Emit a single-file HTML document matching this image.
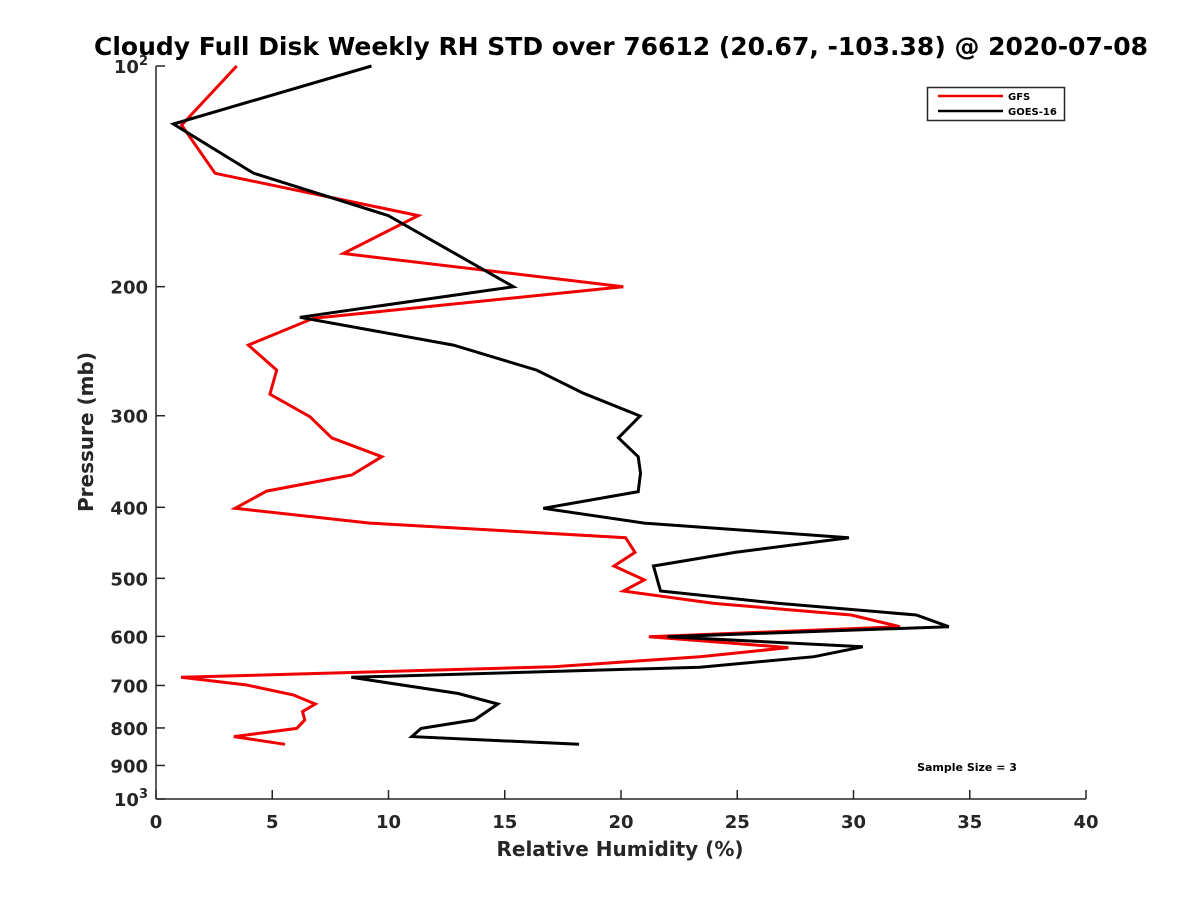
<!DOCTYPE html>
<html><head><meta charset="utf-8"><style>
body{margin:0;background:#fff}
svg text{font-family:"DejaVu Sans","Liberation Sans",sans-serif;font-weight:bold;fill:#262626}
</style></head><body>
<svg id="chart" width="1200" height="900" xmlns="http://www.w3.org/2000/svg">
<text x="621" y="55" text-anchor="middle" font-size="25" textLength="1054" lengthAdjust="spacingAndGlyphs" style="fill:#000">Cloudy Full Disk Weekly RH STD over 76612 (20.67, -103.38) @ 2020-07-08</text>
<g id="axes"></g>
<g id="series"></g>
<text x="620" y="856" text-anchor="middle" font-size="20">Relative Humidity (%)</text>
<text transform="translate(93,432) rotate(-90)" text-anchor="middle" font-size="20">Pressure (mb)</text>
<g>
<rect x="927.5" y="87.5" width="137" height="33" fill="#fff" stroke="#262626" stroke-width="1.5"/>
<line x1="938" y1="96" x2="1003" y2="96" stroke="#f00000" stroke-width="2.5"/>
<text x="1008" y="100" font-size="10" style="fill:#000">GFS</text>
<line x1="938" y1="111" x2="1003" y2="111" stroke="#000" stroke-width="2.5"/>
<text x="1008" y="115" font-size="10" style="fill:#000">GOES-16</text>
</g>
<text x="967" y="771" text-anchor="middle" font-size="11" style="fill:#000">Sample Size = 3</text>
</svg>
<script>
const xTicks=[0,5,10,15,20,25,30,35,40];
const yTicks=[100,200,300,400,500,600,700,800,900,1000];
const yTickLabels=["10^2","200","300","400","500","600","700","800","900","10^3"];
const gfsRH=[3.47,1.1,2.54,11.28,8.06,20.1,6.77,3.97,5.19,4.9,6.62,7.56,9.71,8.42,4.76,3.4,9.2,20.2,20.6,19.7,21.0,20.1,24.0,29.9,32.0,21.2,27.2,23.4,17.1,1.08,3.9,5.9,6.85,6.3,6.4,6.05,3.35,5.55];
const gfsP=[100,120.4,140.1,160,180.2,200,220.9,240.3,259.9,280.4,300.9,321.6,341.2,361.4,380.1,401.2,420.4,440.1,460.8,481,502.5,520.2,541,561,582,600.6,621.6,639.5,660,682.3,699,721,742,760,780,801,822,842];
const goesRH=[9.27,0.75,4.19,9.99,15.37,6.19,12.79,16.37,18.38,20.82,19.89,20.74,20.84,20.74,16.66,21.0,29.8,24.9,21.4,21.7,26.8,32.7,34.1,22.0,30.4,28.3,23.4,8.4,13.0,14.7,13.7,11.4,11.0,18.2];
const goesP=[100,120,140,160,200,220.2,240.3,259.9,279.5,300.3,321.6,341.2,359.5,380.9,401.2,420.4,440.1,460.8,481,520.2,541,561,582,600.6,620,639.5,661,682.3,718,742,780,801,822,842];
const X0=156,X1=1086,Y0=66,Y1=799;
const sx=v=>X0+(v-0)/40*(X1-X0);
const sy=p=>Y0+Math.log10(p/100)*(Y1-Y0);
const NS="http://www.w3.org/2000/svg";
function mk(t,a,parent){const e=document.createElementNS(NS,t);for(const k in a)e.setAttribute(k,a[k]);parent.appendChild(e);return e;}
const ax=document.getElementById('axes');
const yl=mk('line',{x1:X0,y1:Y0,x2:X0,y2:Y1,stroke:'#262626','stroke-width':1.5},ax);


const xl=mk('line',{x1:X0,y1:Y1,x2:X1,y2:Y1,stroke:'#262626','stroke-width':1.5},ax);


xTicks.forEach(v=>{
 const t=mk('line',{x1:sx(v),y1:Y1,x2:sx(v),y2:Y1-9,stroke:'#262626','stroke-width':1.5},ax);
 
 
 const l=mk('text',{x:sx(v),y:Y1+29,'text-anchor':'middle','font-size':18},ax);
 l.textContent=v;
 
 
});
yTicks.forEach((p,i)=>{
 const t=mk('line',{x1:X0,y1:sy(p),x2:X0+9,y2:sy(p),stroke:'#262626','stroke-width':1.5},ax);
 
 
 const lab=yTickLabels[i];
 if(lab.includes('^')){
  const parts=lab.split('^');
  const l=mk('text',{x:X0-8,y:sy(p)+7,'text-anchor':'end','font-size':18},ax);
  
  
  const a=mk('tspan',{},l);a.textContent=parts[0];
  const b=mk('tspan',{dy:-8,'font-size':13},l);b.textContent=parts[1];
 } else {
  const l=mk('text',{x:X0-8,y:sy(p)+7,'text-anchor':'end','font-size':18},ax);
  l.textContent=lab;
  
  
 }
});
const sg=document.getElementById('series');
function line(rh,p,color,name){
 const d=rh.map((v,i)=>(i?'L':'M')+sx(v).toFixed(1)+' '+sy(p[i]).toFixed(1)).join(' ');
 const e=mk('path',{d:d,fill:'none',stroke:color,'stroke-width':3,'stroke-linejoin':'miter'},sg);
 
 
}
line(gfsRH,gfsP,'#f00000','gfs-line');
line(goesRH,goesP,'#000','goes16-line');
</script>
</body></html>
